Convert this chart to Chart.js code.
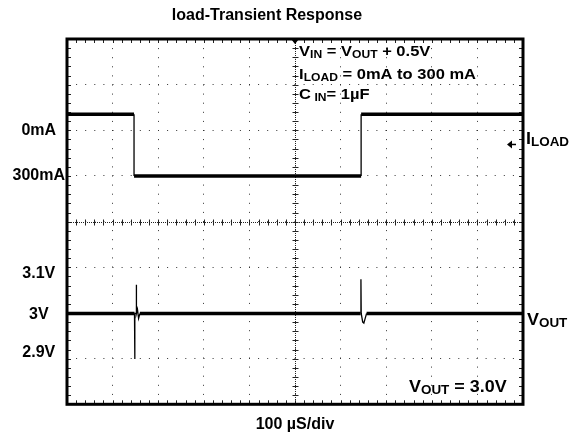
<!DOCTYPE html>
<html>
<head>
<meta charset="utf-8">
<title>load-Transient Response</title>
<script src="https://cdn.jsdelivr.net/npm/chart.js@4.4.0/dist/chart.umd.min.js"></script>
<style>
  body { margin: 0; background: #fff; }
  #grafico { display: block; }
</style>
</head>
<body>
<canvas id="grafico" width="571" height="439"></canvas>
<script>
// time in µs (100 µs/div), levels in screen divisions (0 = bottom, 8 = top)
var tempiCarico = [0, 147, 147, 645, 645, 1000];
var livelliCarico = [6.35, 6.35, 5.0, 5.0, 6.35, 6.35];

var tempiUscita = [0, 148, 148.5, 149, 151.5, 152, 152.5, 154.5, 157, 160, 644, 644.6, 645.2, 648.5, 651, 653, 657, 1000];
var livelliUscita = [1.99, 1.99, 0.99, 1.99, 1.99, 2.62, 1.99, 2.08, 1.88, 1.99, 1.99, 2.74, 1.99, 1.80, 1.78, 1.85, 1.99, 1.99];

var posizioniTick = [6, 5, 2.87, 1.97, 1.14];
var etichetteTick = ['0mA', '300mA', '3.1V', '3V', '2.9V'];

var FONT = '"Liberation Sans", Arial, sans-serif';

function creaPunti(tempi, livelli) {
    var punti = [];
    for (var i = 0; i < tempi.length; i++) {
        punti.push({ x: tempi[i], y: livelli[i] });
    }
    return punti;
}

// text with subscripts, slightly stretched like the scope screenshot
function scriviTesto(ctx, x, y, parti, size, subSize, sx) {
    ctx.save();
    ctx.translate(x, y);
    ctx.scale(sx, 1);
    ctx.fillStyle = '#000';
    ctx.textAlign = 'left';
    ctx.textBaseline = 'alphabetic';
    var cx = 0;
    for (var i = 0; i < parti.length; i++) {
        var sub = parti[i][1];
        ctx.font = 'bold ' + (sub ? subSize : size) + 'px ' + FONT;
        ctx.fillText(parti[i][0], cx, sub ? 2 : 0);
        cx += ctx.measureText(parti[i][0]).width;
    }
    ctx.restore();
}

var note = [
    { t: 509, d: 7.63, parti: [['V'], ['IN', 1], [' = V'], ['OUT', 1], [' + 0.5V']] },
    { t: 509, d: 7.12, parti: [['I'], ['LOAD', 1], [' = 0mA to 300 mA']] },
    { t: 509, d: 6.68, parti: [['C'], [' IN', 1], ['= 1µF']] }
];

function segno(ctx, x1, y1, x2, y2) {
    ctx.moveTo(x1, y1);
    ctx.lineTo(x2, y2);
}

var pluginScope = {
    id: 'scope',
    beforeDatasetsDraw: function (chart) {
        var ctx = chart.ctx;
        var a = chart.chartArea;
        var sx = chart.scales.x;
        var sy = chart.scales.y;
        var cx = Math.round(sx.getPixelForValue(500)) + 0.5;
        var cy = Math.round(sy.getPixelForValue(4)) + 0.5;
        var i, p;
        ctx.save();
        ctx.strokeStyle = '#222';
        ctx.lineWidth = 1;
        // centre cross, dense dots
        ctx.setLineDash([1, 1]);
        ctx.beginPath();
        segno(ctx, cx, a.top, cx, a.bottom);
        segno(ctx, a.left, cy, a.right, cy);
        ctx.stroke();
        ctx.setLineDash([]);
        ctx.beginPath();
        for (i = 0; i <= 50; i++) {
            p = Math.round(sx.getPixelForValue(i * 20)) + 0.5;
            segno(ctx, p, cy - 3, p, cy + 3);
            segno(ctx, p, a.top, p, a.top + 4);
            segno(ctx, p, a.bottom, p, a.bottom - 4);
        }
        for (i = 0; i <= 40; i++) {
            p = Math.round(sy.getPixelForValue(i * 0.2)) + 0.5;
            segno(ctx, cx - 3, p, cx + 3, p);
            segno(ctx, a.left, p, a.left + 4, p);
            segno(ctx, a.right, p, a.right - 4, p);
        }
        ctx.stroke();
        ctx.restore();
    },
    afterDatasetsDraw: function (chart) {
        var ctx = chart.ctx;
        var a = chart.chartArea;
        var sx = chart.scales.x;
        var sy = chart.scales.y;
        ctx.save();
        ctx.strokeStyle = '#000';
        ctx.lineWidth = 3;
        ctx.strokeRect(a.left, a.top, a.right - a.left, a.bottom - a.top);

        // trigger marker
        var cx = sx.getPixelForValue(500);
        ctx.fillStyle = '#000';
        ctx.beginPath();
        ctx.moveTo(cx - 4, a.top);
        ctx.lineTo(cx + 4, a.top);
        ctx.lineTo(cx, a.top + 5);
        ctx.closePath();
        ctx.fill();

        // channel marker for I LOAD
        var ym = sy.getPixelForValue(5.69);
        ctx.beginPath();
        ctx.moveTo(a.right - 16, ym);
        ctx.lineTo(a.right - 11, ym - 4);
        ctx.lineTo(a.right - 11, ym + 4);
        ctx.closePath();
        ctx.fill();
        ctx.lineWidth = 1.5;
        ctx.beginPath();
        segno(ctx, a.right - 12, ym, a.right - 7, ym);
        ctx.stroke();
        ctx.restore();

        for (var i = 0; i < note.length; i++) {
            scriviTesto(ctx, sx.getPixelForValue(note[i].t), sy.getPixelForValue(note[i].d), note[i].parti, 15, 11, 1.1);
        }
        scriviTesto(ctx, sx.getPixelForValue(750), sy.getPixelForValue(0.26), [['V'], ['OUT', 1], [' = 3.0V']], 16, 12, 1.12);
        scriviTesto(ctx, a.right + 3, sy.getPixelForValue(5.69), [['I'], ['LOAD', 1]], 16, 12, 1.12);
        scriviTesto(ctx, a.right + 4, sy.getPixelForValue(1.73), [['V'], ['OUT', 1]], 16, 12, 1.12);
    }
};

var spessoreTraccia = function (c) {
    return Math.abs(c.p1.x - c.p0.x) < 2 ? 1.3 : 3.5;
};

var ctx = document.getElementById('grafico');
var grafico = new Chart(ctx, {
    type: 'line',
    data: {
        datasets: [{
            label: 'I LOAD',
            data: creaPunti(tempiCarico, livelliCarico),
            borderColor: '#000',
            borderWidth: 3.5,
            pointRadius: 0,
            tension: 0,
            segment: { borderWidth: spessoreTraccia }
        }, {
            label: 'V OUT',
            data: creaPunti(tempiUscita, livelliUscita),
            borderColor: '#000',
            borderWidth: 3.5,
            pointRadius: 0,
            tension: 0,
            segment: { borderWidth: spessoreTraccia }
        }]
    },
    options: {
        responsive: false,
        animation: false,
        devicePixelRatio: 1,
        layout: { padding: { left: 11, right: 48, top: 0, bottom: 0 } },
        plugins: {
            legend: { display: false },
            tooltip: { enabled: false },
            title: {
                display: true,
                text: 'load-Transient Response',
                color: '#000',
                font: { family: FONT, size: 16, weight: 'bold' },
                padding: { top: 6, bottom: 13.8 }
            }
        },
        scales: {
            x: {
                type: 'linear',
                min: 0,
                max: 1000,
                ticks: { display: false, stepSize: 100 },
                grid: { color: '#333', lineWidth: 1, drawTicks: false },
                border: { display: false, dash: [1, 8.1] },
                title: {
                    display: true,
                    text: '100 µS/div',
                    color: '#000',
                    font: { family: FONT, size: 16, weight: 'bold' },
                    padding: { top: 11, bottom: 4.5 }
                }
            },
            y: {
                position: 'left',
                min: 0,
                max: 8,
                ticks: { display: false, stepSize: 1 },
                grid: { color: '#333', lineWidth: 1, drawTicks: false },
                border: { display: false, dash: [1, 8.1] },
                afterFit: function (scale) { scale.width = 0; }
            },
            etichette: {
                position: 'left',
                min: 0,
                max: 8,
                grid: { display: false, drawTicks: false },
                border: { display: false },
                afterBuildTicks: function (scale) {
                    scale.ticks = posizioniTick.map(function (v) { return { value: v }; });
                },
                afterFit: function (scale) { scale.width = 56; },
                ticks: {
                    autoSkip: false,
                    crossAlign: 'center',
                    padding: 2,
                    color: '#000',
                    font: { family: FONT, size: 16, weight: 'bold' },
                    callback: function (value) {
                        return etichetteTick[posizioniTick.indexOf(value)];
                    }
                }
            }
        }
    },
    plugins: [pluginScope]
});
</script>
</body>
</html>
